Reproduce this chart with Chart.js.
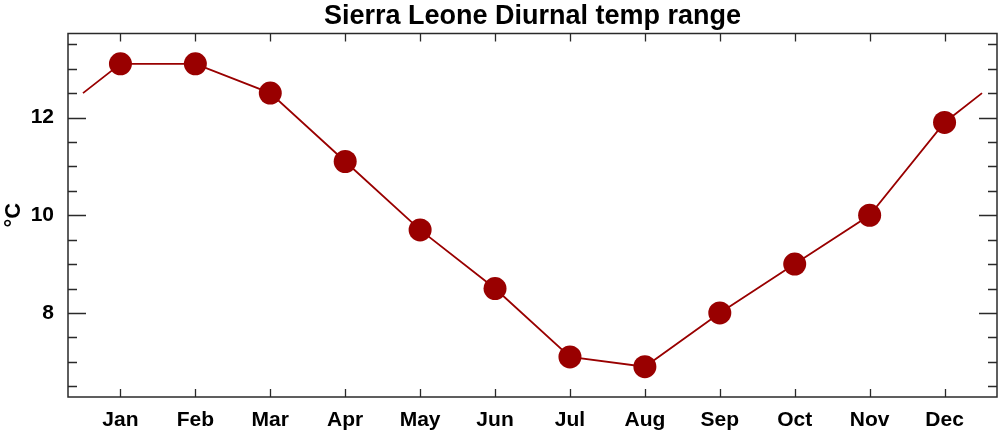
<!DOCTYPE html>
<html>
<head>
<meta charset="utf-8">
<script src="https://cdn.jsdelivr.net/npm/chart.js@4"></script>
<style>
  html, body { margin: 0; padding: 0; background: #ffffff; }
  #wrap { width: 1000px; height: 432px; }
</style>
</head>
<body>
<div id="wrap"><canvas id="c" width="1000" height="432"></canvas></div>
<script>
// ---- data ----
const months = ['Jan','Feb','Mar','Apr','May','Jun','Jul','Aug','Sep','Oct','Nov','Dec'];
const dtr = [13.1, 13.1, 12.5, 11.1, 9.7, 8.5, 7.1, 6.9, 8.0, 9.0, 10.0, 11.9];
// line continues half a month beyond each end
const wrapStart = 12.5;
const wrapEnd = 12.5;
const yLabelTicks = [8, 10, 12];
const titleText = 'Sierra Leone Diurnal temp range';
const yTitle = '°C';

const red = '#990000';
const axisColor = '#2a2a2a';
const FONT = "'Liberation Sans', Arial, Helvetica, sans-serif";

const markerPts = dtr.map((v, i) => ({x: i, y: v}));
const linePts = [{x: -0.5, y: wrapStart}].concat(markerPts, [{x: dtr.length - 0.5, y: wrapEnd}]);

const frameTicks = {
  id: 'frameTicks',
  afterDatasetsDraw(chart) {
    const {ctx, chartArea: a, scales: {x, y}} = chart;
    ctx.save();
    ctx.strokeStyle = axisColor;
    ctx.lineWidth = 1.3;
    ctx.beginPath();
    // y ticks every 0.5, major every 2
    const start = Math.ceil(y.min / 0.5) * 0.5;
    for (let v = start; v <= y.max + 1e-9; v += 0.5) {
      const py = Math.round(y.getPixelForValue(v)) + 0.5;
      const len = (Math.abs(v % 2) < 1e-9) ? 18 : 9;
      ctx.moveTo(a.left, py); ctx.lineTo(a.left + len, py);
      ctx.moveTo(a.right, py); ctx.lineTo(a.right - len, py);
    }
    // x ticks at months
    for (let i = 0; i < months.length; i++) {
      const px = Math.round(x.getPixelForValue(i)) + 0.5;
      ctx.moveTo(px, a.bottom); ctx.lineTo(px, a.bottom - 8);
      ctx.moveTo(px, a.top); ctx.lineTo(px, a.top + 8);
    }
    ctx.stroke();
    ctx.lineWidth = 1.5;
    ctx.strokeRect(a.left, a.top, a.right - a.left, a.bottom - a.top);
    ctx.restore();
  }
};

new Chart(document.getElementById('c'), {
  type: 'scatter',
  data: {
    datasets: [
      {
        data: markerPts,
        showLine: false,
        pointRadius: 11.5,
        pointHoverRadius: 11.5,
        pointBackgroundColor: red,
        pointBorderWidth: 0,
        order: 0
      },
      {
        data: linePts,
        showLine: true,
        borderColor: red,
        borderWidth: 1.8,
        pointRadius: 0,
        pointHoverRadius: 0,
        order: 1
      }
    ]
  },
  options: {
    responsive: false,
    animation: false,
    events: [],
    layout: { autoPadding: false, padding: { left: 0, right: 3, top: 0, bottom: 0 } },
    plugins: {
      legend: { display: false },
      tooltip: { enabled: false },
      title: {
        display: true,
        text: titleText,
        fullSize: false,
        color: '#000',
        font: { family: FONT, size: 27, weight: 'bold', lineHeight: 1 },
        padding: { top: 3, bottom: 3.5 }
      }
    },
    scales: {
      x: {
        type: 'linear',
        min: -0.7,
        max: 11.7,
        grid: { display: false },
        border: { display: false },
        afterBuildTicks: (s) => { s.ticks = months.map((m, i) => ({value: i})); },
        afterFit: (s) => { s.height = 35; s.paddingLeft = 0; s.paddingRight = 0; },
        ticks: {
          autoSkip: false,
          maxRotation: 0,
          padding: 3,
          color: '#000',
          font: { family: FONT, size: 21, weight: 'bold' },
          callback: (v) => months[v]
        }
      },
      y: {
        type: 'linear',
        min: 6.28,
        max: 13.72,
        grid: { display: false },
        border: { display: false },
        afterBuildTicks: (s) => { s.ticks = yLabelTicks.map(v => ({value: v})); },
        afterFit: (s) => { s.width = 68; s.paddingTop = 0; s.paddingBottom = 0; },
        ticks: {
          padding: 6,
          color: '#000',
          font: { family: FONT, size: 21, weight: 'bold' },
          callback: (v) => String(v)
        },
        title: {
          display: true,
          text: yTitle,
          color: '#000',
          font: { family: FONT, size: 22, weight: 'bold' },
          padding: { top: 1, bottom: 0 }
        }
      }
    }
  },
  plugins: [frameTicks]
});
</script>
</body>
</html>
